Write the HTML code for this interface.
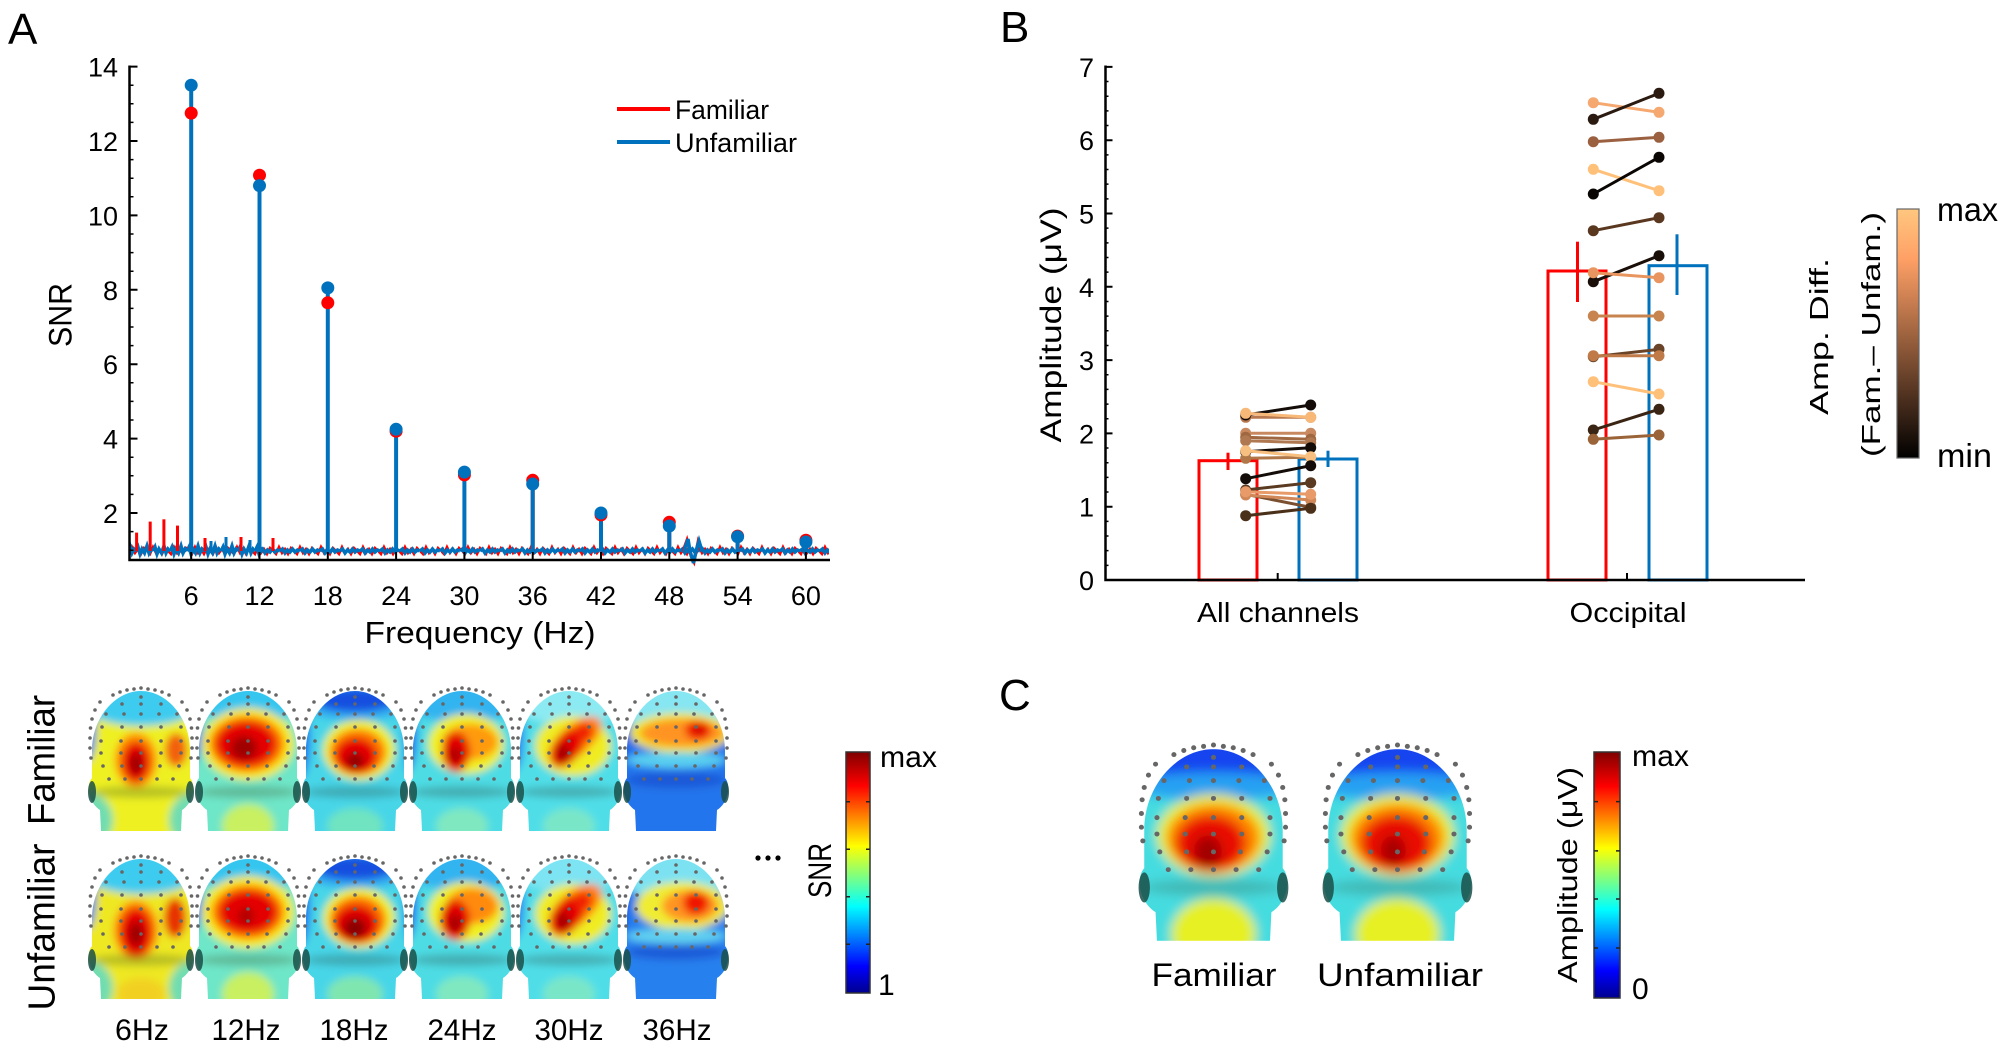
<!DOCTYPE html>
<html><head><meta charset="utf-8"><style>html,body{margin:0;padding:0;background:#fff}svg{display:block}</style></head>
<body>
<svg xmlns="http://www.w3.org/2000/svg" xmlns:xlink="http://www.w3.org/1999/xlink" width="2006" height="1046" viewBox="0 0 2006 1046" font-family="'Liberation Sans', sans-serif">
<defs>
<linearGradient id="jet" x1="0" y1="1" x2="0" y2="0">
<stop offset="0" stop-color="#00008F"/><stop offset="0.11" stop-color="#0000FF"/><stop offset="0.36" stop-color="#00FFFF"/><stop offset="0.61" stop-color="#FFFF00"/><stop offset="0.86" stop-color="#FF0000"/><stop offset="1" stop-color="#800000"/>
</linearGradient>
<linearGradient id="cop" x1="0" y1="1" x2="0" y2="0">
<stop offset="0" stop-color="#000000"/><stop offset="0.8" stop-color="#FFA066"/><stop offset="1" stop-color="#FFC77F"/>
</linearGradient>
<clipPath id="hc"><path d="M12 143 L11 122 C6 119 1 112 0 104 C-1 97 1 92 3 90 L3 62 C3 30 26 3 52 3 C78 3 101 30 101 62 L101 90 C103 92 105 97 104 104 C103 112 98 119 93 122 L92 143 Z"/></clipPath>
<filter id="bl" x="-20%" y="-20%" width="140%" height="140%"><feGaussianBlur stdDeviation="4"/></filter>
<g id="ears"><ellipse cx="3" cy="104" rx="4" ry="11" fill="#1a4f48" opacity="0.85"/><ellipse cx="101" cy="104" rx="4" ry="11" fill="#1a4f48" opacity="0.85"/></g>
<g id="dots" fill="#666">
<circle cx="24" cy="7" r="1.8"/><circle cx="31" cy="4" r="1.8"/><circle cx="38" cy="2" r="1.8"/><circle cx="45" cy="1" r="1.8"/><circle cx="52" cy="0" r="1.8"/><circle cx="59" cy="1" r="1.8"/><circle cx="66" cy="2" r="1.8"/><circle cx="73" cy="4" r="1.8"/><circle cx="80" cy="7" r="1.8"/>
<circle cx="11" cy="14" r="1.8"/><circle cx="6" cy="22" r="1.8"/><circle cx="3" cy="31" r="1.8"/><circle cx="1.5" cy="40" r="1.8"/><circle cx="1" cy="50" r="1.8"/><circle cx="1" cy="60" r="1.8"/><circle cx="2" cy="70" r="1.8"/>
<circle cx="93" cy="14" r="1.8"/><circle cx="98" cy="22" r="1.8"/><circle cx="101" cy="31" r="1.8"/><circle cx="102.5" cy="40" r="1.8"/><circle cx="103" cy="50" r="1.8"/><circle cx="103" cy="60" r="1.8"/><circle cx="102" cy="70" r="1.8"/>
<circle cx="52" cy="9" r="1.8"/><circle cx="33" cy="16" r="1.8"/><circle cx="52" cy="16" r="1.8"/><circle cx="72" cy="16" r="1.8"/>
<circle cx="17" cy="26" r="1.8"/><circle cx="35" cy="26" r="1.8"/><circle cx="52" cy="26" r="1.8"/><circle cx="70" cy="26" r="1.8"/><circle cx="88" cy="26" r="1.8"/>
<circle cx="13" cy="39" r="1.8"/><circle cx="33" cy="39" r="1.8"/><circle cx="52" cy="39" r="1.8"/><circle cx="72" cy="39" r="1.8"/><circle cx="92" cy="39" r="1.8"/>
<circle cx="12" cy="53" r="1.8"/><circle cx="32" cy="53" r="1.8"/><circle cx="52" cy="53" r="1.8"/><circle cx="72" cy="53" r="1.8"/><circle cx="92" cy="53" r="1.8"/>
<circle cx="12" cy="65" r="1.8"/><circle cx="32" cy="65" r="1.8"/><circle cx="52" cy="65" r="1.8"/><circle cx="72" cy="65" r="1.8"/><circle cx="92" cy="65" r="1.8"/>
<circle cx="14" cy="78" r="1.8"/><circle cx="33" cy="78" r="1.8"/><circle cx="52" cy="78" r="1.8"/><circle cx="71" cy="78" r="1.8"/><circle cx="90" cy="78" r="1.8"/>
<circle cx="20" cy="91" r="1.8"/><circle cx="36" cy="91" r="1.8"/><circle cx="52" cy="91" r="1.8"/><circle cx="68" cy="91" r="1.8"/><circle cx="84" cy="91" r="1.8"/>
</g>
<pattern id="nzB" patternUnits="userSpaceOnUse" x="0" y="541" width="20" height="20">
<polyline points="0,10 2.5,8 5,12 7.5,9 10,11 12.5,8 15,11 17.5,9 20,10" fill="none" stroke="#0072BD" stroke-width="3.5"/>
</pattern>
<pattern id="nzB2" patternUnits="userSpaceOnUse" x="0" y="536" width="17" height="30">
<polyline points="0,15 2,11 4,18 6,13 8.5,17 11,10 13,17 15,13 17,15" fill="none" stroke="#0072BD" stroke-width="3.5"/>
</pattern>
<pattern id="nzR" patternUnits="userSpaceOnUse" x="0" y="541" width="21" height="20">
<polyline points="0,10 3,13 6,6 9,12 12,8 15,13 18,7 21,10" fill="none" stroke="#FF0000" stroke-width="2.5"/>
</pattern>
</defs>
<rect width="2006" height="1046" fill="#fff"/>

<!-- ================= PANEL A (spectrum) ================= -->
<text x="8" y="44" font-size="44">A</text>

<rect x="129" y="541" width="700" height="20" fill="url(#nzR)"/>
<rect x="262" y="541" width="567" height="20" fill="url(#nzB)"/>
<rect x="129" y="536" width="133" height="30" fill="url(#nzB2)"/>
<g stroke="#FF0000" stroke-width="3">
<line x1="136.6" y1="551" x2="136.6" y2="532.6"/><line x1="150.2" y1="551" x2="150.2" y2="521.6"/><line x1="163.9" y1="551" x2="163.9" y2="519.3"/><line x1="177.5" y1="551" x2="177.5" y2="525.6"/>
<line x1="205" y1="551" x2="205" y2="538"/><line x1="241" y1="551" x2="241" y2="537"/><line x1="273" y1="551" x2="273" y2="538"/>
</g>
<g stroke="#0072BD" stroke-width="3">
<line x1="226" y1="551" x2="226" y2="537"/><line x1="211" y1="551" x2="211" y2="541"/><line x1="250" y1="551" x2="250" y2="540"/>
</g>
<polyline points="683,551 687,540 691,556 694,562 698,542 701,551" fill="none" stroke="#FF0000" stroke-width="3"/>
<polyline points="684,551 688,539 690,551 693.5,563 696,551 699,541 702,551" fill="none" stroke="#0072BD" stroke-width="3.5"/>

<g stroke="#FF0000" stroke-width="4">
<line x1="259.5" y1="551" x2="259.5" y2="175.2"/><line x1="532.7" y1="551" x2="532.7" y2="480.3"/><line x1="669.3" y1="551" x2="669.3" y2="522.3"/><line x1="805.9" y1="551" x2="805.9" y2="540.2"/><line x1="737.6" y1="551" x2="737.6" y2="536.1"/>
</g>
<g stroke="#0072BD" stroke-width="4">
<line x1="191.2" y1="551" x2="191.2" y2="85.2"/><line x1="259.5" y1="551" x2="259.5" y2="185.6"/><line x1="327.8" y1="551" x2="327.8" y2="287.9"/><line x1="396.1" y1="551" x2="396.1" y2="429.3"/><line x1="464.4" y1="551" x2="464.4" y2="472.1"/><line x1="532.7" y1="551" x2="532.7" y2="484"/><line x1="601" y1="551" x2="601" y2="513"/><line x1="669.3" y1="551" x2="669.3" y2="526"/><line x1="737.6" y1="551" x2="737.6" y2="536.8"/><line x1="805.9" y1="551" x2="805.9" y2="542"/>
</g>
<g fill="#FF0000">
<circle cx="191.2" cy="113.1" r="6.5"/><circle cx="259.5" cy="175.2" r="6.5"/><circle cx="327.8" cy="302.8" r="6.5"/><circle cx="396.1" cy="431.2" r="6.5"/><circle cx="464.4" cy="474.9" r="6.5"/><circle cx="532.7" cy="480.3" r="6.5"/><circle cx="601" cy="514.9" r="6.5"/><circle cx="669.3" cy="522.3" r="6.5"/><circle cx="737.6" cy="536.1" r="6.5"/><circle cx="805.9" cy="540.2" r="6.5"/>
</g>
<g fill="#0072BD">
<circle cx="191.2" cy="85.2" r="6.5"/><circle cx="259.5" cy="185.6" r="6.5"/><circle cx="327.8" cy="287.9" r="6.5"/><circle cx="396.1" cy="429.3" r="6.5"/><circle cx="464.4" cy="472.1" r="6.5"/><circle cx="532.7" cy="484" r="6.5"/><circle cx="601" cy="513" r="6.5"/><circle cx="669.3" cy="526" r="6.5"/><circle cx="737.6" cy="536.8" r="6.5"/><circle cx="805.9" cy="542" r="6.5"/>
</g>

<g stroke="#000" fill="none">
<path d="M129.5 65.5 V560 H830" stroke-width="2.5"/>
<path d="M129.5 550.2h4m-4 -18.6h4m-4 -18.6h4m-4 -18.6h4m-4 -18.6h4m-4 -18.6h4m-4 -18.6h4m-4 -18.6h4m-4 -18.6h4m-4 -18.6h4m-4 -18.6h4m-4 -18.6h4m-4 -18.6h4m-4 -18.6h4m-4 -18.6h4m-4 -18.6h4m-4 -18.6h4m-4 -18.6h4m-4 -18.6h4m-4 -18.6h4m-4 -18.6h4m-4 -18.6h4m-4 -18.6h4m-4 -18.6h4m-4 -18.6h4m-4 -18.6h4" stroke-width="1.5"/>
<path d="M129.5 513h8M129.5 438.6h8M129.5 364.2h8M129.5 289.8h8M129.5 215.4h8M129.5 141h8M129.5 66.6h8" stroke-width="2"/>
<path d="M191.2 560v-8M259.5 560v-8M327.8 560v-8M396.1 560v-8M464.4 560v-8M532.7 560v-8M601 560v-8M669.3 560v-8M737.6 560v-8M805.9 560v-8" stroke-width="2"/>
</g>
<g font-size="27" text-anchor="end">
<text x="118" y="523">2</text><text x="118" y="448.6">4</text><text x="118" y="374.2">6</text><text x="118" y="299.8">8</text><text x="118" y="225.4">10</text><text x="118" y="151">12</text><text x="118" y="76.6">14</text>
</g>
<g font-size="27" text-anchor="middle">
<text x="191.2" y="605">6</text><text x="259.5" y="605">12</text><text x="327.8" y="605">18</text><text x="396.1" y="605">24</text><text x="464.4" y="605">30</text><text x="532.7" y="605">36</text><text x="601" y="605">42</text><text x="669.3" y="605">48</text><text x="737.6" y="605">54</text><text x="805.9" y="605">60</text>
</g>
<text transform="translate(71.7,315) rotate(-90)" font-size="32" text-anchor="middle" textLength="64" lengthAdjust="spacingAndGlyphs">SNR</text>
<text x="480" y="643" font-size="31" text-anchor="middle" textLength="231" lengthAdjust="spacingAndGlyphs">Frequency (Hz)</text>
<line x1="617" y1="109" x2="670" y2="109" stroke="#FF0000" stroke-width="4"/>
<line x1="617" y1="142" x2="670" y2="142" stroke="#0072BD" stroke-width="4"/>
<text x="675" y="119" font-size="26.5" textLength="94" lengthAdjust="spacingAndGlyphs">Familiar</text>
<text x="675" y="152" font-size="26.5" textLength="122" lengthAdjust="spacingAndGlyphs">Unfamiliar</text>

<!-- ================= PANEL A heads ================= -->
<g transform="translate(89,688)">
<g clip-path="url(#hc)"><g filter="url(#bl)">
<rect x="-10" y="-10" width="124" height="163" fill="#EEF020"/>
<ellipse cx="2" cy="132" rx="22" ry="26" fill="#70DDB0"/><ellipse cx="102" cy="132" rx="22" ry="26" fill="#70DDB0"/>
<ellipse cx="52" cy="8" rx="66" ry="30" fill="#3CCCF0"/>
<ellipse cx="-2" cy="40" rx="9" ry="34" fill="#1E78F0"/>
<ellipse cx="47" cy="72" rx="21" ry="27" fill="#FF8A00"/>
<ellipse cx="47" cy="74" rx="14" ry="20" fill="#E60000"/>
<ellipse cx="47" cy="76" rx="6" ry="11" fill="#9A0000"/>
<ellipse cx="87" cy="62" rx="11" ry="17" fill="#F26010"/>
<ellipse cx="52" cy="104" rx="50" ry="6" fill="#3a5a30" opacity=".3"/>
</g></g>
<use href="#ears"/><use href="#dots"/>
</g>
<g transform="translate(196,688)">
<g clip-path="url(#hc)"><g filter="url(#bl)">
<rect x="-10" y="-10" width="124" height="163" fill="#6EE6C8"/>
<ellipse cx="52" cy="138" rx="26" ry="22" fill="#C8F060"/>
<ellipse cx="52" cy="6" rx="66" ry="28" fill="#36C6F0"/>
<ellipse cx="-2" cy="45" rx="8" ry="30" fill="#1E78F0"/>
<ellipse cx="52" cy="56" rx="46" ry="36" fill="#F6EA18"/>
<ellipse cx="51" cy="56" rx="37" ry="28" fill="#FF7000"/>
<ellipse cx="50" cy="56" rx="30" ry="22" fill="#E40000"/>
<ellipse cx="48" cy="60" rx="13" ry="12" fill="#A00000"/>
<ellipse cx="52" cy="104" rx="50" ry="6" fill="#3a5a30" opacity=".3"/>
</g></g>
<use href="#ears"/><use href="#dots"/>
</g>
<g transform="translate(303,688)">
<g clip-path="url(#hc)"><g filter="url(#bl)">
<rect x="-10" y="-10" width="124" height="163" fill="#46D6E8"/>
<ellipse cx="52" cy="138" rx="28" ry="18" fill="#70E4C0"/>
<ellipse cx="52" cy="6" rx="66" ry="26" fill="#30A8F0"/>
<ellipse cx="52" cy="12" rx="40" ry="12" fill="#1650E0"/>
<ellipse cx="-2" cy="50" rx="9" ry="40" fill="#1E6CF0"/>
<ellipse cx="106" cy="50" rx="6" ry="35" fill="#2C9CF0"/>
<ellipse cx="56" cy="62" rx="36" ry="30" fill="#F0F020"/>
<ellipse cx="55" cy="64" rx="28" ry="23" fill="#FF7800"/>
<ellipse cx="53" cy="68" rx="21" ry="18" fill="#E40000"/>
<ellipse cx="52" cy="73" rx="9" ry="8" fill="#920000"/>
<ellipse cx="52" cy="104" rx="50" ry="6" fill="#2a4a40" opacity=".3"/>
</g></g>
<use href="#ears"/><use href="#dots"/>
</g>
<g transform="translate(410,688)">
<g clip-path="url(#hc)"><g filter="url(#bl)">
<rect x="-10" y="-10" width="124" height="163" fill="#4EDCE4"/>
<ellipse cx="52" cy="138" rx="26" ry="18" fill="#80E8C0"/>
<ellipse cx="52" cy="8" rx="66" ry="26" fill="#32B4F0"/>
<ellipse cx="-2" cy="45" rx="9" ry="38" fill="#1E6CF0"/>
<ellipse cx="56" cy="56" rx="38" ry="30" fill="#F0F020"/>
<ellipse cx="60" cy="54" rx="28" ry="18" fill="#FF9A10"/>
<ellipse cx="46" cy="64" rx="14" ry="20" fill="#E40000"/>
<ellipse cx="45" cy="67" rx="5" ry="8" fill="#A00000"/>
<ellipse cx="52" cy="104" rx="50" ry="6" fill="#2a4a40" opacity=".3"/>
</g></g>
<use href="#ears"/><use href="#dots"/>
</g>
<g transform="translate(517,688)">
<g clip-path="url(#hc)"><g filter="url(#bl)">
<rect x="-10" y="-10" width="124" height="163" fill="#50DEE8"/>
<ellipse cx="52" cy="138" rx="26" ry="18" fill="#7AE6C8"/>
<ellipse cx="52" cy="8" rx="66" ry="28" fill="#8CEAF2"/>
<ellipse cx="-2" cy="45" rx="9" ry="38" fill="#2A80F0"/>
<ellipse cx="56" cy="58" rx="38" ry="30" fill="#F0EC20"/>
<ellipse cx="58" cy="52" rx="32" ry="15" transform="rotate(-40 58 52)" fill="#FF8400"/>
<ellipse cx="50" cy="60" rx="13" ry="22" transform="rotate(35 50 60)" fill="#E40000"/>
<ellipse cx="67" cy="44" rx="9" ry="9" fill="#F02000"/>
<ellipse cx="46" cy="65" rx="6" ry="9" fill="#A00000"/>
<ellipse cx="52" cy="104" rx="50" ry="6" fill="#2a4a40" opacity=".3"/>
</g></g>
<use href="#ears"/><use href="#dots"/>
</g>
<g transform="translate(624,688)">
<g clip-path="url(#hc)"><g filter="url(#bl)">
<rect x="-10" y="-10" width="124" height="163" fill="#2474EC"/>
<ellipse cx="52" cy="12" rx="66" ry="34" fill="#86E6F2"/>
<ellipse cx="-2" cy="45" rx="8" ry="30" fill="#1E5CE8"/>
<ellipse cx="56" cy="45" rx="50" ry="20" fill="#F0E620"/>
<ellipse cx="58" cy="45" rx="42" ry="14" fill="#FF9420"/>
<ellipse cx="74" cy="42" rx="13" ry="10" fill="#F01400"/>
<ellipse cx="75" cy="42" rx="4" ry="4" fill="#C00000"/>
<ellipse cx="52" cy="72" rx="50" ry="8" fill="#5AD0F0"/>
<ellipse cx="52" cy="92" rx="50" ry="8" fill="#1A58D8"/>
</g></g>
<use href="#ears"/><use href="#dots"/>
</g>
<g transform="translate(89,856)">
<g clip-path="url(#hc)"><g filter="url(#bl)">
<rect x="-10" y="-10" width="124" height="163" fill="#EEE820"/>
<ellipse cx="2" cy="132" rx="22" ry="26" fill="#70DDB0"/><ellipse cx="102" cy="132" rx="22" ry="26" fill="#70DDB0"/>
<ellipse cx="52" cy="138" rx="24" ry="16" fill="#F2D020"/>
<ellipse cx="52" cy="8" rx="66" ry="30" fill="#3CCCF0"/>
<ellipse cx="-2" cy="40" rx="9" ry="34" fill="#1E78F0"/>
<ellipse cx="47" cy="74" rx="22" ry="29" fill="#FF8000"/>
<ellipse cx="47" cy="76" rx="16" ry="24" fill="#E60000"/>
<ellipse cx="47" cy="78" rx="7" ry="12" fill="#9A0000"/>
<ellipse cx="86" cy="62" rx="11" ry="20" fill="#E83000"/>
<ellipse cx="52" cy="104" rx="50" ry="6" fill="#3a5a30" opacity=".3"/>
</g></g>
<use href="#ears"/><use href="#dots"/>
</g>
<g transform="translate(196,856)">
<g clip-path="url(#hc)"><g filter="url(#bl)">
<rect x="-10" y="-10" width="124" height="163" fill="#6EE6C8"/>
<ellipse cx="52" cy="138" rx="26" ry="22" fill="#C8F060"/>
<ellipse cx="52" cy="6" rx="66" ry="28" fill="#36C6F0"/>
<ellipse cx="-2" cy="45" rx="8" ry="30" fill="#1E78F0"/>
<ellipse cx="52" cy="56" rx="46" ry="36" fill="#F6EA18"/>
<ellipse cx="52" cy="56" rx="36" ry="27" fill="#FF7000"/>
<ellipse cx="52" cy="56" rx="29" ry="21" fill="#E40000"/>
<ellipse cx="50" cy="60" rx="8" ry="8" fill="#B00000"/>
<ellipse cx="52" cy="104" rx="50" ry="6" fill="#3a5a30" opacity=".3"/>
</g></g>
<use href="#ears"/><use href="#dots"/>
</g>
<g transform="translate(303,856)">
<g clip-path="url(#hc)"><g filter="url(#bl)">
<rect x="-10" y="-10" width="124" height="163" fill="#46D6E8"/>
<ellipse cx="52" cy="138" rx="28" ry="18" fill="#80E6B0"/>
<ellipse cx="52" cy="6" rx="66" ry="26" fill="#30A8F0"/>
<ellipse cx="52" cy="12" rx="40" ry="12" fill="#1650E0"/>
<ellipse cx="-2" cy="50" rx="9" ry="40" fill="#1E6CF0"/>
<ellipse cx="106" cy="50" rx="6" ry="35" fill="#2C9CF0"/>
<ellipse cx="56" cy="62" rx="36" ry="30" fill="#F0F020"/>
<ellipse cx="55" cy="64" rx="28" ry="24" fill="#FF7000"/>
<ellipse cx="53" cy="68" rx="22" ry="19" fill="#E00000"/>
<ellipse cx="52" cy="72" rx="11" ry="10" fill="#8A0000"/>
<ellipse cx="52" cy="104" rx="50" ry="6" fill="#2a4a40" opacity=".3"/>
</g></g>
<use href="#ears"/><use href="#dots"/>
</g>
<g transform="translate(410,856)">
<g clip-path="url(#hc)"><g filter="url(#bl)">
<rect x="-10" y="-10" width="124" height="163" fill="#4EDCE4"/>
<ellipse cx="52" cy="138" rx="26" ry="18" fill="#80E8C0"/>
<ellipse cx="52" cy="8" rx="66" ry="26" fill="#32B4F0"/>
<ellipse cx="-2" cy="45" rx="9" ry="38" fill="#1E6CF0"/>
<ellipse cx="56" cy="56" rx="38" ry="30" fill="#F0F020"/>
<ellipse cx="62" cy="50" rx="26" ry="18" fill="#FF8A10"/>
<ellipse cx="45" cy="64" rx="15" ry="20" fill="#E40000"/>
<ellipse cx="45" cy="67" rx="6" ry="9" fill="#A00000"/>
<ellipse cx="52" cy="104" rx="50" ry="6" fill="#2a4a40" opacity=".3"/>
</g></g>
<use href="#ears"/><use href="#dots"/>
</g>
<g transform="translate(517,856)">
<g clip-path="url(#hc)"><g filter="url(#bl)">
<rect x="-10" y="-10" width="124" height="163" fill="#50DEE8"/>
<ellipse cx="52" cy="138" rx="26" ry="18" fill="#7AE6C8"/>
<ellipse cx="52" cy="8" rx="66" ry="28" fill="#7CE4F2"/>
<ellipse cx="-2" cy="45" rx="9" ry="38" fill="#2A80F0"/>
<ellipse cx="56" cy="58" rx="38" ry="30" fill="#F0EC20"/>
<ellipse cx="58" cy="52" rx="32" ry="16" transform="rotate(-40 58 52)" fill="#FF8000"/>
<ellipse cx="50" cy="60" rx="14" ry="22" transform="rotate(35 50 60)" fill="#E40000"/>
<ellipse cx="66" cy="45" rx="9" ry="9" fill="#F02000"/>
<ellipse cx="46" cy="65" rx="6" ry="9" fill="#A00000"/>
<ellipse cx="52" cy="104" rx="50" ry="6" fill="#2a4a40" opacity=".3"/>
</g></g>
<use href="#ears"/><use href="#dots"/>
</g>
<g transform="translate(624,856)">
<g clip-path="url(#hc)"><g filter="url(#bl)">
<rect x="-10" y="-10" width="124" height="163" fill="#2880EE"/>
<ellipse cx="52" cy="12" rx="66" ry="32" fill="#7CE2F2"/>
<ellipse cx="-2" cy="45" rx="8" ry="30" fill="#1E5CE8"/>
<ellipse cx="58" cy="50" rx="46" ry="24" fill="#F0EC30"/>
<ellipse cx="66" cy="50" rx="28" ry="16" fill="#FF9420"/>
<ellipse cx="72" cy="47" rx="13" ry="12" fill="#F01400"/>
<ellipse cx="52" cy="80" rx="50" ry="8" fill="#60D0F0"/>
<ellipse cx="52" cy="96" rx="50" ry="8" fill="#1A5CD8"/>
</g></g>
<use href="#ears"/><use href="#dots"/>
</g>

<text transform="translate(54.5,760) rotate(-90)" font-size="38" text-anchor="middle" textLength="130" lengthAdjust="spacingAndGlyphs">Familiar</text>
<text transform="translate(54.5,927) rotate(-90)" font-size="38" text-anchor="middle" textLength="167" lengthAdjust="spacingAndGlyphs">Unfamiliar</text>
<g font-size="30" text-anchor="middle">
<text x="142" y="1040" textLength="54" lengthAdjust="spacingAndGlyphs">6Hz</text>
<text x="246" y="1040" textLength="69" lengthAdjust="spacingAndGlyphs">12Hz</text>
<text x="354" y="1040" textLength="69" lengthAdjust="spacingAndGlyphs">18Hz</text>
<text x="462" y="1040" textLength="69" lengthAdjust="spacingAndGlyphs">24Hz</text>
<text x="569" y="1040" textLength="69" lengthAdjust="spacingAndGlyphs">30Hz</text>
<text x="677" y="1040" textLength="69" lengthAdjust="spacingAndGlyphs">36Hz</text>
</g>
<g fill="#000"><circle cx="758" cy="858" r="2.6"/><circle cx="768" cy="858" r="2.6"/><circle cx="778" cy="858" r="2.6"/></g>
<text transform="translate(831,870.5) rotate(-90)" font-size="32" text-anchor="middle" textLength="55" lengthAdjust="spacingAndGlyphs">SNR</text>
<rect x="846" y="752" width="24" height="241" fill="url(#jet)" stroke="#333" stroke-width="1.5"/>
<path d="M846 801.7h4M866 801.7h4M846 849.3h4M866 849.3h4M846 896.7h4M866 896.7h4M846 944.3h4M866 944.3h4" stroke="#222" stroke-width="1.5"/>
<text x="880" y="767" font-size="30" textLength="57" lengthAdjust="spacingAndGlyphs">max</text>
<text x="878" y="995" font-size="30">1</text>

<!-- ================= PANEL B ================= -->
<text x="1000" y="42" font-size="44">B</text>
<g fill="none" stroke-width="3">
<rect x="1199" y="460.7" width="58" height="119.3" stroke="#FF0000"/>
<rect x="1299" y="459" width="58" height="121" stroke="#0072BD"/>
<rect x="1548" y="271" width="58" height="309" stroke="#FF0000"/>
<rect x="1649" y="265.7" width="58" height="314.3" stroke="#0072BD"/>
</g>
<g stroke-width="3">
<line x1="1228" y1="452.7" x2="1228" y2="470" stroke="#FF0000"/>
<line x1="1328" y1="450.7" x2="1328" y2="467" stroke="#0072BD"/>
<line x1="1577.5" y1="241.7" x2="1577.5" y2="302" stroke="#FF0000"/>
<line x1="1677" y1="234.3" x2="1677" y2="295" stroke="#0072BD"/>
</g>
<g stroke-width="3">
<line x1="1245.7" y1="417.3" x2="1310.7" y2="417.3" stroke="#B87850"/><circle cx="1245.7" cy="417.3" r="5.5" fill="#B87850"/><circle cx="1310.7" cy="417.3" r="5.5" fill="#B87850"/>
<line x1="1245.7" y1="415" x2="1310.7" y2="405" stroke="#140c08"/><circle cx="1245.7" cy="415" r="5.5" fill="#140c08"/><circle cx="1310.7" cy="405" r="5.5" fill="#140c08"/>
<line x1="1245.7" y1="413.3" x2="1310.7" y2="417.3" stroke="#F8B878"/><circle cx="1245.7" cy="413.3" r="5.5" fill="#F8B878"/><circle cx="1310.7" cy="417.3" r="5.5" fill="#F8B878"/>
<line x1="1245.7" y1="433.3" x2="1310.7" y2="433.3" stroke="#C88860"/><circle cx="1245.7" cy="433.3" r="5.5" fill="#C88860"/><circle cx="1310.7" cy="433.3" r="5.5" fill="#C88860"/>
<line x1="1245.7" y1="437.3" x2="1310.7" y2="439.3" stroke="#A06840"/><circle cx="1245.7" cy="437.3" r="5.5" fill="#A06840"/><circle cx="1310.7" cy="439.3" r="5.5" fill="#A06840"/>
<line x1="1245.7" y1="440.7" x2="1310.7" y2="442.7" stroke="#B07850"/><circle cx="1245.7" cy="440.7" r="5.5" fill="#B07850"/><circle cx="1310.7" cy="442.7" r="5.5" fill="#B07850"/>
<line x1="1245.7" y1="451.7" x2="1310.7" y2="447.7" stroke="#140c08"/><circle cx="1245.7" cy="451.7" r="5.5" fill="#140c08"/><circle cx="1310.7" cy="447.7" r="5.5" fill="#140c08"/>
<line x1="1245.7" y1="458.3" x2="1310.7" y2="457.3" stroke="#B07848"/><circle cx="1245.7" cy="458.3" r="5.5" fill="#B07848"/><circle cx="1310.7" cy="457.3" r="5.5" fill="#B07848"/>
<line x1="1245.7" y1="450.7" x2="1310.7" y2="456.7" stroke="#F8C080"/><circle cx="1245.7" cy="450.7" r="5.5" fill="#F8C080"/><circle cx="1310.7" cy="456.7" r="5.5" fill="#F8C080"/>
<line x1="1245.7" y1="478.7" x2="1310.7" y2="465.7" stroke="#140c08"/><circle cx="1245.7" cy="478.7" r="5.5" fill="#140c08"/><circle cx="1310.7" cy="465.7" r="5.5" fill="#140c08"/>
<line x1="1245.7" y1="490" x2="1310.7" y2="482.7" stroke="#5a3a20"/><circle cx="1245.7" cy="490" r="5.5" fill="#5a3a20"/><circle cx="1310.7" cy="482.7" r="5.5" fill="#5a3a20"/>
<line x1="1245.7" y1="494.3" x2="1310.7" y2="507.3" stroke="#7a5030"/><circle cx="1245.7" cy="494.3" r="5.5" fill="#7a5030"/><circle cx="1310.7" cy="507.3" r="5.5" fill="#7a5030"/>
<line x1="1245.7" y1="495" x2="1310.7" y2="500" stroke="#D08858"/><circle cx="1245.7" cy="495" r="5.5" fill="#D08858"/><circle cx="1310.7" cy="500" r="5.5" fill="#D08858"/>
<line x1="1245.7" y1="491.7" x2="1310.7" y2="494.3" stroke="#E89A68"/><circle cx="1245.7" cy="491.7" r="5.5" fill="#E89A68"/><circle cx="1310.7" cy="494.3" r="5.5" fill="#E89A68"/>
<line x1="1245.7" y1="515.7" x2="1310.7" y2="508.3" stroke="#4a3018"/><circle cx="1245.7" cy="515.7" r="5.5" fill="#4a3018"/><circle cx="1310.7" cy="508.3" r="5.5" fill="#4a3018"/>
</g>
<g stroke-width="3">
<line x1="1593.3" y1="102.7" x2="1659" y2="112.3" stroke="#F5A870"/><circle cx="1593.3" cy="102.7" r="5.5" fill="#F5A870"/><circle cx="1659" cy="112.3" r="5.5" fill="#F5A870"/>
<line x1="1593.3" y1="119.3" x2="1659" y2="93.3" stroke="#2a1a10"/><circle cx="1593.3" cy="119.3" r="5.5" fill="#2a1a10"/><circle cx="1659" cy="93.3" r="5.5" fill="#2a1a10"/>
<line x1="1593.3" y1="141.7" x2="1659" y2="137.3" stroke="#9a6040"/><circle cx="1593.3" cy="141.7" r="5.5" fill="#9a6040"/><circle cx="1659" cy="137.3" r="5.5" fill="#9a6040"/>
<line x1="1593.3" y1="169.3" x2="1659" y2="190.7" stroke="#FFC07A"/><circle cx="1593.3" cy="169.3" r="5.5" fill="#FFC07A"/><circle cx="1659" cy="190.7" r="5.5" fill="#FFC07A"/>
<line x1="1593.3" y1="194" x2="1659" y2="157.3" stroke="#0a0604"/><circle cx="1593.3" cy="194" r="5.5" fill="#0a0604"/><circle cx="1659" cy="157.3" r="5.5" fill="#0a0604"/>
<line x1="1593.3" y1="230.7" x2="1659" y2="217.7" stroke="#5a3820"/><circle cx="1593.3" cy="230.7" r="5.5" fill="#5a3820"/><circle cx="1659" cy="217.7" r="5.5" fill="#5a3820"/>
<line x1="1593.3" y1="281.7" x2="1659" y2="255.7" stroke="#1a0e08"/><circle cx="1593.3" cy="281.7" r="5.5" fill="#1a0e08"/><circle cx="1659" cy="255.7" r="5.5" fill="#1a0e08"/>
<line x1="1593.3" y1="272.7" x2="1659" y2="277.7" stroke="#E8955F"/><circle cx="1593.3" cy="272.7" r="5.5" fill="#E8955F"/><circle cx="1659" cy="277.7" r="5.5" fill="#E8955F"/>
<line x1="1593.3" y1="316" x2="1659" y2="316" stroke="#C8844F"/><circle cx="1593.3" cy="316" r="5.5" fill="#C8844F"/><circle cx="1659" cy="316" r="5.5" fill="#C8844F"/>
<line x1="1593.3" y1="356.7" x2="1659" y2="349.3" stroke="#6a4428"/><circle cx="1593.3" cy="356.7" r="5.5" fill="#6a4428"/><circle cx="1659" cy="349.3" r="5.5" fill="#6a4428"/>
<line x1="1593.3" y1="355.7" x2="1659" y2="355.7" stroke="#C07A48"/><circle cx="1593.3" cy="355.7" r="5.5" fill="#C07A48"/><circle cx="1659" cy="355.7" r="5.5" fill="#C07A48"/>
<line x1="1593.3" y1="381.7" x2="1659" y2="394" stroke="#FFC07A"/><circle cx="1593.3" cy="381.7" r="5.5" fill="#FFC07A"/><circle cx="1659" cy="394" r="5.5" fill="#FFC07A"/>
<line x1="1593.3" y1="430" x2="1659" y2="409.3" stroke="#3a2414"/><circle cx="1593.3" cy="430" r="5.5" fill="#3a2414"/><circle cx="1659" cy="409.3" r="5.5" fill="#3a2414"/>
<line x1="1593.3" y1="439.3" x2="1659" y2="435" stroke="#9a6438"/><circle cx="1593.3" cy="439.3" r="5.5" fill="#9a6438"/><circle cx="1659" cy="435" r="5.5" fill="#9a6438"/>
</g>
<g stroke="#000" fill="none">
<path d="M1105.5 65.5 V580 H1805" stroke-width="2.5"/>
<path d="M1105.5 565.34h3m-3 -14.66h3m-3 -14.66h3m-3 -14.66h3m-3 -14.66h3m-3 -14.66h3m-3 -14.66h3m-3 -14.66h3m-3 -14.66h3m-3 -14.66h3m-3 -14.66h3m-3 -14.66h3m-3 -14.66h3m-3 -14.66h3m-3 -14.66h3m-3 -14.66h3m-3 -14.66h3m-3 -14.66h3m-3 -14.66h3m-3 -14.66h3m-3 -14.66h3m-3 -14.66h3m-3 -14.66h3m-3 -14.66h3m-3 -14.66h3m-3 -14.66h3m-3 -14.66h3m-3 -14.66h3m-3 -14.66h3m-3 -14.66h3m-3 -14.66h3m-3 -14.66h3m-3 -14.66h3m-3 -14.66h3" stroke-width="1.5"/>
<path d="M1105.5 506.7h7M1105.5 433.4h7M1105.5 360.1h7M1105.5 286.8h7M1105.5 213.5h7M1105.5 140.2h7M1105.5 66.9h7" stroke-width="2"/>
<path d="M1277.7 580v-7M1627 580v-7" stroke-width="2"/>
</g>
<g font-size="27" text-anchor="end">
<text x="1094" y="590">0</text><text x="1094" y="516.7">1</text><text x="1094" y="443.4">2</text><text x="1094" y="370.1">3</text><text x="1094" y="296.8">4</text><text x="1094" y="223.5">5</text><text x="1094" y="150.2">6</text><text x="1094" y="76.9">7</text>
</g>
<text transform="translate(1061,325) rotate(-90)" font-size="30" text-anchor="middle" textLength="235" lengthAdjust="spacingAndGlyphs">Amplitude (μV)</text>
<text x="1278" y="622" font-size="28" text-anchor="middle" textLength="162" lengthAdjust="spacingAndGlyphs">All channels</text>
<text x="1628" y="622" font-size="28" text-anchor="middle" textLength="117" lengthAdjust="spacingAndGlyphs">Occipital</text>
<rect x="1897" y="209" width="22" height="249" fill="url(#cop)" stroke="#666" stroke-width="1.2"/>
<text x="1937" y="221" font-size="33" textLength="61" lengthAdjust="spacingAndGlyphs">max</text>
<text x="1937" y="467" font-size="33" textLength="55" lengthAdjust="spacingAndGlyphs">min</text>
<text transform="translate(1828,336.5) rotate(-90)" font-size="26" text-anchor="middle" textLength="157" lengthAdjust="spacingAndGlyphs">Amp. Diff.</text>
<text transform="translate(1880,334.5) rotate(-90)" font-size="26" text-anchor="middle" textLength="245" lengthAdjust="spacingAndGlyphs">(Fam.– Unfam.)</text>

<!-- ================= PANEL C ================= -->
<text x="999" y="710" font-size="44">C</text>
<g transform="translate(1140,745) scale(1.413,1.37)">
<g clip-path="url(#hc)"><g filter="url(#bl)">
<rect x="-10" y="-10" width="124" height="163" fill="#44DCE0"/>
<ellipse cx="52" cy="138" rx="30" ry="26" fill="#E6F020"/>
<ellipse cx="52" cy="0" rx="70" ry="40" fill="#1444F0"/>
<ellipse cx="52" cy="30" rx="64" ry="10" fill="#26A0F2"/>
<ellipse cx="52" cy="66" rx="40" ry="30" fill="#EAF020"/>
<ellipse cx="52" cy="68" rx="33" ry="25" fill="#FF8400"/>
<ellipse cx="50" cy="72" rx="25" ry="21" fill="#E81000"/>
<ellipse cx="48" cy="78" rx="10" ry="12" fill="#A20000"/>
<ellipse cx="52" cy="104" rx="50" ry="6" fill="#3a4a30" opacity=".25"/>
</g></g>
<use href="#ears"/><use href="#dots"/>
</g>
<g transform="translate(1324,745) scale(1.413,1.37)">
<g clip-path="url(#hc)"><g filter="url(#bl)">
<rect x="-10" y="-10" width="124" height="163" fill="#44DCE0"/>
<ellipse cx="52" cy="138" rx="30" ry="26" fill="#E6F020"/>
<ellipse cx="52" cy="0" rx="70" ry="40" fill="#1444F0"/>
<ellipse cx="52" cy="30" rx="64" ry="10" fill="#26A0F2"/>
<ellipse cx="52" cy="66" rx="40" ry="30" fill="#EAF020"/>
<ellipse cx="52" cy="68" rx="33" ry="25" fill="#FF8400"/>
<ellipse cx="51" cy="72" rx="25" ry="21" fill="#E81000"/>
<ellipse cx="49" cy="77" rx="9" ry="11" fill="#A80000"/>
<ellipse cx="52" cy="104" rx="50" ry="6" fill="#3a4a30" opacity=".25"/>
</g></g>
<use href="#ears"/><use href="#dots"/>
</g>
<text x="1214" y="986" font-size="32" text-anchor="middle" textLength="125" lengthAdjust="spacingAndGlyphs">Familiar</text>
<text x="1400" y="986" font-size="32" text-anchor="middle" textLength="166" lengthAdjust="spacingAndGlyphs">Unfamiliar</text>
<rect x="1594" y="752" width="26" height="246" fill="url(#jet)" stroke="#333" stroke-width="1.5"/>
<path d="M1594 801.6h4M1616 801.6h4M1594 850.9h4M1616 850.9h4M1594 899h4M1616 899h4M1594 948h4M1616 948h4" stroke="#222" stroke-width="1.5"/>
<text x="1632" y="766" font-size="30" textLength="57" lengthAdjust="spacingAndGlyphs">max</text>
<text x="1632" y="999" font-size="30">0</text>
<text transform="translate(1577,875) rotate(-90)" font-size="28" text-anchor="middle" textLength="216" lengthAdjust="spacingAndGlyphs">Amplitude (μV)</text>
</svg>
</body></html>
